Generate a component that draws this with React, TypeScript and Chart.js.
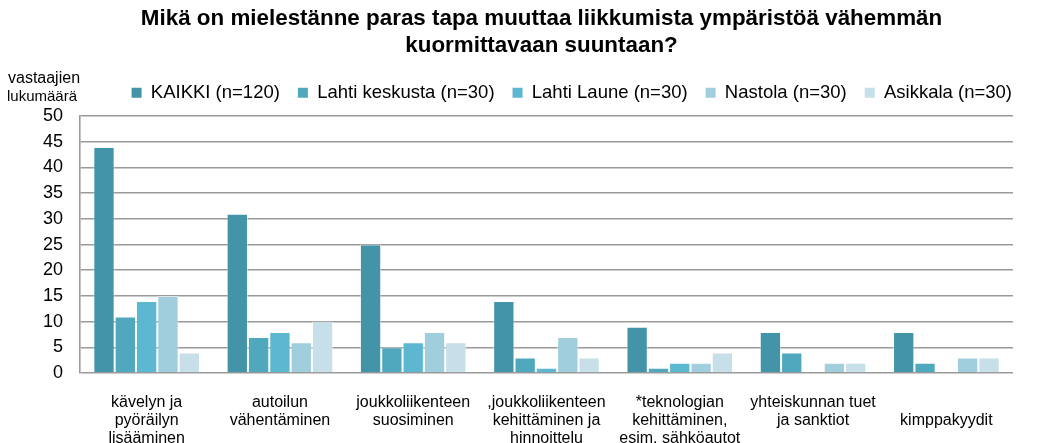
import React, { useEffect, useRef } from 'react';
import { Chart, registerables } from 'chart.js';

Chart.register(...registerables);

// ---- data ----
const categories: string[][] = [
  ['kävelyn ja', 'pyöräilyn', 'lisääminen'],
  ['autoilun', 'vähentäminen'],
  ['joukkoliikenteen', 'suosiminen'],
  [',joukkoliikenteen', 'kehittäminen ja', 'hinnoittelu'],
  ['*teknologian', 'kehittäminen,', 'esim. sähköautot'],
  ['yhteiskunnan tuet', 'ja sanktiot'],
  ['', 'kimppakyydit'],
];
const seriesNames = [
  'KAIKKI (n=120)',
  'Lahti keskusta (n=30)',
  'Lahti Laune (n=30)',
  'Nastola (n=30)',
  'Asikkala (n=30)',
];
const kaikki = [44, 31, 25, 14, 9, 8, 8];
const lahtiKeskusta = [11, 7, 5, 3, 1, 4, 2];
const lahtiLaune = [14, 8, 6, 1, 2, 0, 0];
const nastola = [15, 6, 8, 7, 2, 2, 3];
const asikkala = [4, 10, 6, 3, 4, 2, 3];
const yMin = 0;
const yMax = 50;
const yStep = 5;
const titleLines = [
  'Mikä on mielestänne paras tapa muuttaa liikkumista ympäristöä vähemmän',
  'kuormittavaan suuntaan?',
];
const yAxisTitle = ['vastaajien', 'lukumäärä'];

// ---- styles ----
const colors = ['#4394a8', '#50a8be', '#5bb8d0', '#a0cedc', '#c6dfe8'];
const FONT = '"Liberation Sans", Arial, Helvetica, sans-serif';
const GRID = '#9a9a9a';

const layoutTweak = {
  id: 'layoutTweak',
  afterLayout(chart: any) {
    const lg = chart.legend;
    if (lg) {
      lg.left += 17;
      lg.right += 17;
      lg.top -= 4;
      lg.bottom -= 4;
    }
    const tb = chart.titleBlock;
    if (tb) {
      tb.left += 35;
      tb.right += 35;
    }
  },
  afterDraw(chart: any) {
    const ctx = chart.ctx;
    ctx.save();
    ctx.fillStyle = '#000';
    ctx.textAlign = 'center';
    ctx.textBaseline = 'middle';
    ctx.font = `16px ${FONT}`;
    ctx.fillText(yAxisTitle[0], 44, 79);
    ctx.font = `15px ${FONT}`;
    ctx.fillText(yAxisTitle[1], 42, 97);
    ctx.restore();
  },
};

export default function App() {
  const ref = useRef<HTMLCanvasElement | null>(null);

  useEffect(() => {
    if (!ref.current) return;
    const seriesData = [kaikki, lahtiKeskusta, lahtiLaune, nastola, asikkala];
    const chart = new Chart(ref.current, {
      type: 'bar',
      data: {
        labels: categories,
        datasets: seriesNames.map((name, i) => ({
          label: name,
          data: seriesData[i],
          backgroundColor: colors[i],
          borderColor: 'rgba(255,255,255,0.45)',
          borderWidth: 1,
          barPercentage: 1,
          categoryPercentage: 0.8,
        })),
      },
      options: {
        responsive: false,
        animation: false,
        devicePixelRatio: 1,
        layout: { padding: { left: 0, right: 31, top: 0, bottom: 0 } },
        plugins: {
          title: {
            display: true,
            text: titleLines,
            color: '#000',
            font: { family: FONT, size: 22.4, weight: 'bold', lineHeight: 1.18 },
            padding: { top: 6, bottom: 10.7 },
          },
          legend: {
            display: true,
            position: 'top',
            align: 'end',
            labels: {
              boxWidth: 10,
              boxHeight: 10,
              padding: 18,
              color: '#000',
              font: { family: FONT, size: 18.5 },
              generateLabels: (c: any) =>
                c.data.datasets.map((ds: any, i: number) => ({
                  text: ds.label,
                  fillStyle: ds.backgroundColor,
                  strokeStyle: ds.backgroundColor,
                  lineWidth: 0,
                  hidden: false,
                  datasetIndex: i,
                  fontColor: '#000',
                })),
            },
          },
          tooltip: { enabled: false },
        },
        scales: {
          x: {
            grid: { display: false },
            border: { display: false },
            ticks: {
              color: '#000',
              font: { family: FONT, size: 16, lineHeight: 1.15 },
              padding: 12,
              maxRotation: 0,
              autoSkip: false,
            },
            afterFit: (s: any) => {
              s.height = 70;
            },
          },
          y: {
            min: yMin,
            max: yMax,
            ticks: {
              stepSize: yStep,
              autoSkip: false,
              color: '#000',
              font: { family: FONT, size: 18, lineHeight: 1 },
              padding: 17,
            },
            grid: { color: GRID, lineWidth: 1.6, drawTicks: false },
            border: { display: true, color: GRID, width: 1.6 },
            afterFit: (s: any) => {
              s.width = 80;
            },
          },
        },
      },
      plugins: [layoutTweak],
    } as any);
    return () => chart.destroy();
  }, []);

  return (
    <div style={{ position: 'absolute', left: 0, top: 0, width: 1044, height: 443, background: '#fff' }}>
      <canvas ref={ref} width={1044} height={443} />
    </div>
  );
}
